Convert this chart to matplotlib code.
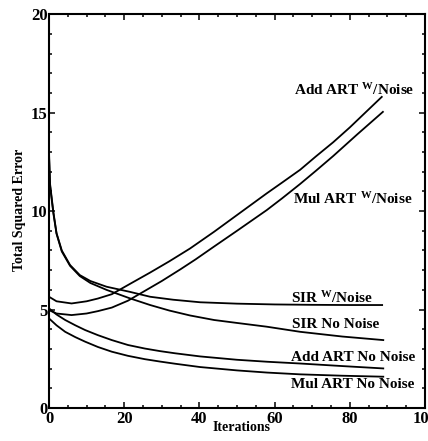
import numpy as np
import matplotlib
matplotlib.use('Agg')
import matplotlib.pyplot as plt
from matplotlib.ticker import MultipleLocator

plt.rcParams['font.family'] = ['Liberation Serif', 'DejaVu Serif']
plt.rcParams['font.weight'] = 'bold'
plt.rcParams['mathtext.fontset'] = 'custom'
plt.rcParams['mathtext.rm'] = 'Liberation Serif:bold'
plt.rcParams['mathtext.it'] = 'Liberation Serif:bold'
plt.rcParams['mathtext.bf'] = 'Liberation Serif:bold'

# --- data ---
x_add_wn = [0, 2, 6, 10, 13, 16.7, 21.5, 26.9, 32, 37.5, 43.9, 50, 57.9, 62, 66.8, 71, 75.6, 80, 84, 88.5]
y_add_wn = [5.65, 5.42, 5.31, 5.42, 5.56, 5.78, 6.3, 6.88, 7.45, 8.1, 8.95, 9.8, 10.9, 11.45, 12.1, 12.78, 13.5, 14.25, 14.98, 15.8]

x_mul_wn = [0, 2, 6, 10, 13, 16.7, 21, 25.5, 30, 35, 39, 43.9, 50, 57.9, 62, 66.8, 71, 75.6, 82, 88.8]
y_mul_wn = [4.97, 4.8, 4.72, 4.8, 4.92, 5.1, 5.45, 5.95, 6.45, 7.05, 7.55, 8.2, 9.0, 10.05, 10.65, 11.38, 12.05, 12.8, 13.9, 15.04]

x_sir_wn = [0, 0.27, 1.15, 2.0, 3.4, 5.6, 8.2, 11, 15.3, 21.5, 26.9, 33, 40.2, 50, 60, 70, 80, 88.6]
y_sir_wn = [13.0, 11.4, 9.97, 8.88, 8.0, 7.26, 6.75, 6.45, 6.16, 5.9, 5.65, 5.5, 5.37, 5.3, 5.26, 5.24, 5.23, 5.23]

x_sir_nn = [0, 0.27, 1.15, 2.0, 3.4, 5.6, 8.2, 11, 15.3, 21.5, 26.9, 32, 37.5, 43.9, 50, 57.9, 66.8, 78, 88.9]
y_sir_nn = [12.8, 11.3, 9.9, 8.85, 7.95, 7.22, 6.7, 6.35, 6.0, 5.57, 5.23, 4.95, 4.7, 4.47, 4.32, 4.13, 3.87, 3.63, 3.45]

x_add_nn = [0, 2, 4.3, 7, 9.6, 13, 16.7, 21, 25.5, 29.5, 33.5, 40.2, 50, 58, 66.8, 78, 88.9]
y_add_nn = [5.06, 4.75, 4.47, 4.2, 3.96, 3.7, 3.45, 3.2, 3.02, 2.89, 2.78, 2.62, 2.45, 2.35, 2.26, 2.13, 2.01]

x_mul_nn = [0, 2, 4.3, 7, 9.6, 13, 16.7, 21, 25.5, 29.5, 33.5, 40.2, 50, 58, 66.8, 78, 88.9]
y_mul_nn = [4.55, 4.2, 3.87, 3.6, 3.37, 3.1, 2.86, 2.65, 2.48, 2.36, 2.25, 2.08, 1.91, 1.8, 1.71, 1.64, 1.59]

series = [(x_add_wn, y_add_wn), (x_mul_wn, y_mul_wn), (x_sir_wn, y_sir_wn),
          (x_sir_nn, y_sir_nn), (x_add_nn, y_add_nn), (x_mul_nn, y_mul_nn)]

labels = [r'Add ART $^{\mathrm{W}}$/Noise', r'Mul ART $^{\mathrm{W}}$/Noise', r'SIR $^{\mathrm{W}}$/Noise',
          'SIR No Noise', 'Add ART No Noise', 'Mul ART No Noise']
label_x = [65.2, 64.9, 64.4, 64.6, 64.4, 64.4]
label_y = [16.14, 10.6, 5.58, 4.26, 2.59, 1.17]

fig = plt.figure(figsize=(4.28, 4.41), dpi=100)
ax = fig.add_axes([0.1145, 0.0748, 0.8785, 0.893])

for xs, ys in series:
    ax.plot(xs, ys, color='black', lw=1.3, solid_joinstyle='round')

for lab, lx, ly in zip(labels, label_x, label_y):
    ax.text(lx, ly, lab, fontsize=11, fontweight='bold', ha='left', va='center')

ax.set_xlim(0, 100)
ax.set_ylim(0, 20)
ax.xaxis.set_major_locator(MultipleLocator(20))
ax.xaxis.set_minor_locator(MultipleLocator(5))
ax.yaxis.set_major_locator(MultipleLocator(5))
ax.yaxis.set_minor_locator(MultipleLocator(1))
ax.tick_params(which='both', direction='in', top=True, right=True, width=1.1)
ax.tick_params(which='major', length=4.5, labelsize=12)
ax.tick_params(axis='x', which='major', pad=2)
ax.tick_params(axis='y', which='major', pad=1)
ax.tick_params(which='minor', length=2.5)
for s in ax.spines.values():
    s.set_linewidth(1.5)

ax.set_xlabel('Iterations', fontsize=10, fontweight='bold')
ax.set_ylabel('Total Squared Error', fontsize=10, fontweight='bold')
ax.xaxis.set_label_coords(0.513, -0.033)
ax.yaxis.set_label_coords(-0.062, 0.503)

plt.savefig('out.png', dpi=100)
plt.close()
